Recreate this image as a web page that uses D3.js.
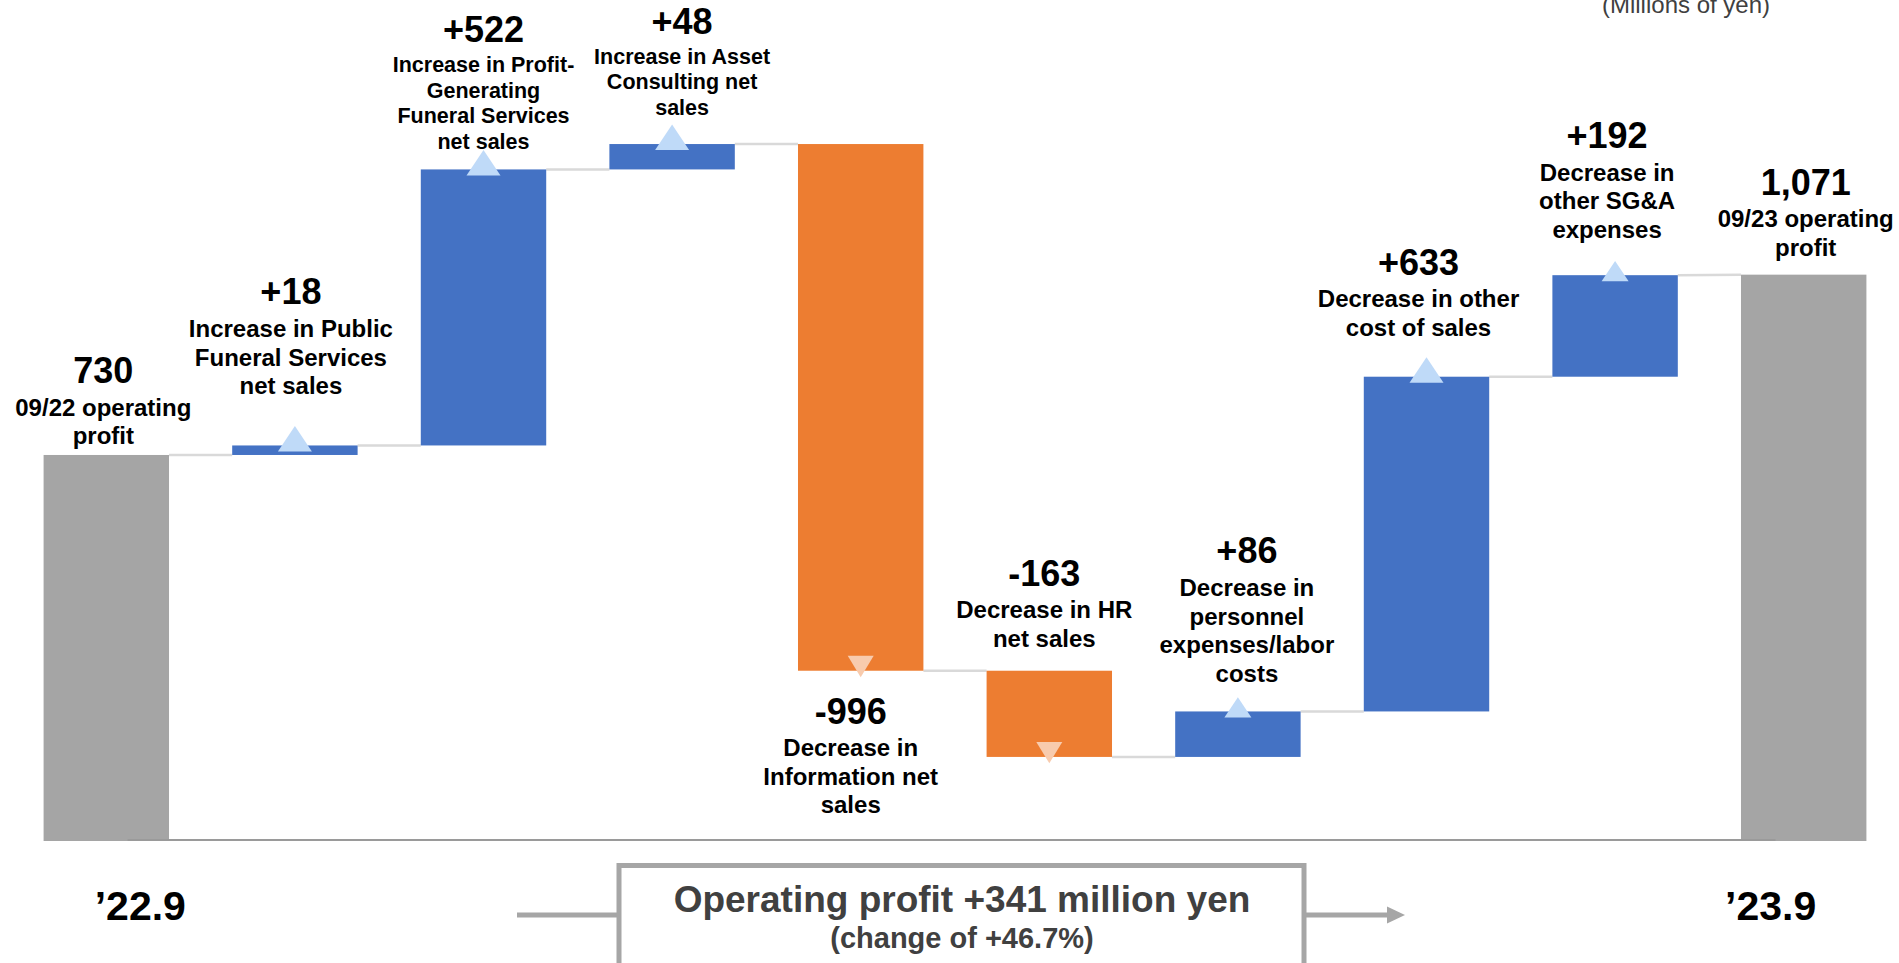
<!DOCTYPE html>
<html>
<head>
<meta charset="utf-8">
<script src="https://cdn.jsdelivr.net/npm/d3@7"></script>
<style>
  body { margin: 0; background: #fff; }
  svg { display: block; font-family: "Liberation Sans", Arial, sans-serif; }
</style>
</head>
<body>
<script>
const W = 1899, H = 963;

// chart data (millions of yen)
const categories = ["start", "public", "profitGen", "asset", "info", "hr", "personnel", "otherCost", "sga", "end"];
const changes = [730, 18, 522, 48, -996, -163, 86, 633, 192, 1071];
const kinds = ["total", "up", "up", "up", "down", "down", "up", "up", "up", "total"];
const valueLabels = ["730", "+18", "+522", "+48", "-996", "-163", "+86", "+633", "+192", "1,071"];
const descLabels = [
    ["09/22 operating", "profit"],
    ["Increase in Public", "Funeral Services", "net sales"],
    ["Increase in Profit-", "Generating", "Funeral Services", "net sales"],
    ["Increase in Asset", "Consulting net", "sales"],
    ["Decrease in", "Information net", "sales"],
    ["Decrease in HR", "net sales"],
    ["Decrease in", "personnel", "expenses/labor", "costs"],
    ["Decrease in other", "cost of sales"],
    ["Decrease in", "other SG&A", "expenses"],
    ["09/23 operating", "profit"]
];
const periodLabels = ["\u201922.9", "\u201923.9"];
const unitLabel = "(Millions of yen)";
const summaryLines = ["Operating profit +341 million yen", "(change of +46.7%)"];

// label layout (px), kept apart from the data
const labelGap = [72, 141, 127, 110, -53, 85, 148, 102, 127, 80]; // negative = below the bar
const labelDx = [-3, -4, 0, 10, -10, -5, 9, -8, -8, 2];
const descSize = [24, 24, 21.5, 21.5, 24, 24, 24, 24, 24, 24];
const markSize = [0, 34, 34, 34, 26, 26, 27, 34, 27, 0];

const colors = { total: "#a5a5a5", up: "#4472c4", down: "#ed7d31" };
const markColors = { up: "#bfdaf8", down: "#f8cbad" };

// running totals for the waterfall
let running = 0;
const bars = changes.map((v, i) => {
    let y0, y1;
    if (kinds[i] === "total") { y0 = 0; y1 = v; running = v; }
    else { y0 = running; y1 = running + v; running = y1; }
    return { cat: categories[i], kind: kinds[i], lo: Math.min(y0, y1), hi: Math.max(y0, y1), start: y0, end: y1, i: i };
});

const svg = d3.select("body").append("svg")
    .attr("width", W)
    .attr("height", H);

const x = d3.scaleBand()
    .domain(categories)
    .range([12, 1898])
    .paddingInner(0.335)
    .paddingOuter(0.1675);

const y = d3.scaleLinear()
    .domain([0, 1500])
    .range([841, 841 - 1500 * 0.5288]);

const bw = x.bandwidth();

// connectors
const conn = [];
for (let i = 0; i < bars.length - 1; i++) {
    const nxt = bars[i + 1];
    conn.push({
        x1: x(bars[i].cat) + bw, y1: y(bars[i].end),
        x2: x(nxt.cat), y2: y(nxt.kind === "total" ? nxt.hi : nxt.start)
    });
}
svg.selectAll(".conn")
    .data(conn)
    .enter()
    .append("line")
    .attr("x1", d => d.x1).attr("y1", d => d.y1)
    .attr("x2", d => d.x2).attr("y2", d => d.y2)
    .attr("stroke", "#d9d9d9")
    .attr("stroke-width", 2.5);

// bars
svg.selectAll(".bar")
    .data(bars)
    .enter()
    .append("rect")
    .attr("x", d => x(d.cat))
    .attr("y", d => y(d.hi))
    .attr("width", bw)
    .attr("height", d => y(d.lo) - y(d.hi))
    .attr("fill", d => colors[d.kind]);

// baseline
svg.append("line")
    .attr("x1", x(categories[0]) + bw * 0.67)
    .attr("x2", x(categories[categories.length - 1]) + bw * 0.275)
    .attr("y1", y(0) - 1).attr("y2", y(0) - 1)
    .attr("stroke", "#9a9a9a")
    .attr("stroke-width", 2);

// triangle markers
svg.selectAll(".mark")
    .data(bars.filter(d => d.kind !== "total"))
    .enter()
    .append("path")
    .attr("d", d => {
        const s = markSize[d.i], cx = x(d.cat) + bw / 2;
        const h = s * 0.75;
        if (d.kind === "up") {
            const b = y(d.hi) + 6;
            return `M${cx - s / 2},${b}L${cx + s / 2},${b}L${cx},${b - h}Z`;
        }
        const t = y(d.lo) - 15;
        return `M${cx - s / 2},${t}L${cx + s / 2},${t}L${cx},${t + h * 1.1}Z`;
    })
    .attr("fill", d => markColors[d.kind]);

// labels
const lab = svg.selectAll(".lab")
    .data(bars)
    .enter()
    .append("g")
    .attr("transform", d => {
        const g = labelGap[d.i];
        const by = g >= 0 ? y(d.hi) - g : y(d.lo) - g;
        return `translate(${x(d.cat) + bw / 2 + labelDx[d.i]},${by})`;
    });

lab.append("text")
    .attr("text-anchor", "middle")
    .attr("font-size", 36)
    .attr("font-weight", "bold")
    .attr("fill", "#000")
    .text(d => valueLabels[d.i]);

lab.each(function (d) {
    const fs = descSize[d.i];
    const lh = fs * 1.19;
    d3.select(this).selectAll(".desc")
        .data(descLabels[d.i])
        .enter()
        .append("text")
        .attr("text-anchor", "middle")
        .attr("font-size", fs)
        .attr("font-weight", "bold")
        .attr("fill", "#000")
        .attr("y", (t, k) => lh + 4 + k * lh)
        .text(t => t);
});

// period labels
svg.selectAll(".period")
    .data(periodLabels)
    .enter()
    .append("text")
    .attr("x", (d, k) => k === 0 ? x(categories[0]) + bw / 2 + 34 : x(categories[9]) + bw / 2 - 33)
    .attr("y", 920)
    .attr("text-anchor", "middle")
    .attr("font-size", 41)
    .attr("font-weight", "bold")
    .attr("fill", "#000")
    .text(d => d);

// unit
svg.append("text")
    .attr("x", 1686).attr("y", 13)
    .attr("text-anchor", "middle")
    .attr("font-size", 24)
    .attr("fill", "#404040")
    .text(unitLabel);

// summary box with arrows
const grey = "#a6a6a6";
svg.append("line")
    .attr("x1", 517).attr("x2", 619).attr("y1", 915).attr("y2", 915)
    .attr("stroke", grey).attr("stroke-width", 5);
svg.append("line")
    .attr("x1", 1304).attr("x2", 1390).attr("y1", 915).attr("y2", 915)
    .attr("stroke", grey).attr("stroke-width", 5);
svg.append("path")
    .attr("d", "M1387,906.5L1405,915L1387,923.5Z")
    .attr("fill", grey);
svg.append("rect")
    .attr("x", 619).attr("y", 865.5)
    .attr("width", 685).attr("height", 200)
    .attr("fill", "#fff")
    .attr("stroke", grey)
    .attr("stroke-width", 5);

svg.selectAll(".sum")
    .data(summaryLines)
    .enter()
    .append("text")
    .attr("x", 962)
    .attr("y", (d, k) => k === 0 ? 912 : 948)
    .attr("text-anchor", "middle")
    .attr("font-size", (d, k) => k === 0 ? 37 : 29)
    .attr("font-weight", "bold")
    .attr("fill", "#404040")
    .text(d => d);
</script>
</body>
</html>
